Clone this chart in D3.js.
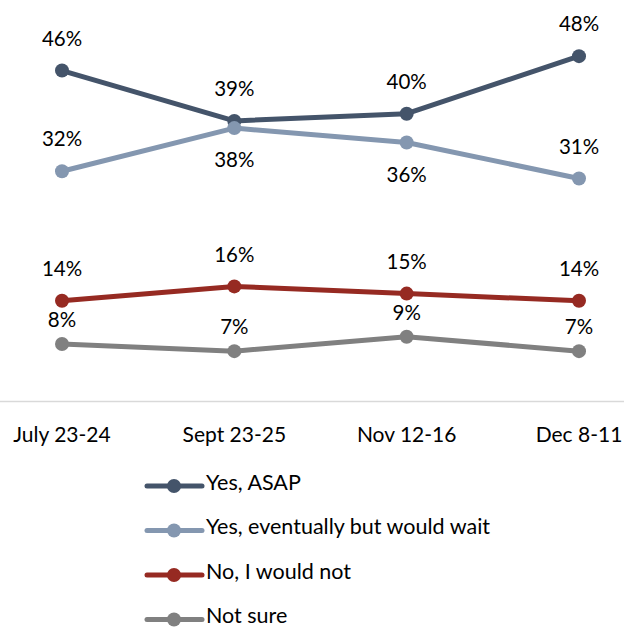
<!DOCTYPE html>
<html><head><meta charset="utf-8">
<script src="https://cdn.jsdelivr.net/npm/d3@7"></script>
<style>html,body{margin:0;padding:0;background:#fff;}svg{display:block;font-family:Lato,"Open Sans",sans-serif;}</style>
</head><body><div id="chart"></div>
<script>
const categories = ["July 23-24", "Sept 23-25", "Nov 12-16", "Dec 8-11"];
const seriesNames = ["Yes, ASAP", "Yes, eventually but would wait", "No, I would not", "Not sure"];
const yesAsap = [46, 39, 40, 48];
const yesEventually = [32, 38, 36, 31];
const noWouldNot = [14, 16, 15, 14];
const notSure = [8, 7, 9, 7];
const labelPos = [
  ["above", "above", "above", "above"],
  ["above", "below", "below", "above"],
  ["above", "above", "above", "above"],
  ["above", "above", "above", "above"]
];

const W = 624, H = 630;
const colors = ["#44546a", "#8497b0", "#962a22", "#808080"];
const labelOffsets = { above: -30, below: 34 };
const grayAbove = -22;
const allSeries = [yesAsap, yesEventually, noWouldNot, notSure];

const svg = d3.select("#chart").append("svg").attr("width", W).attr("height", H);

const x = d3.scalePoint().domain(categories).range([62, 579]);
const y = d3.scaleLinear().domain([0, 55]).range([401.5, 5.8]);

// axis
const xAxis = svg.append("g").attr("transform", `translate(0,${y(0)})`);
xAxis.append("line").attr("x1", 0).attr("x2", W).attr("stroke", "#d9d9d9").attr("stroke-width", 1.5);
xAxis.selectAll("text").data(categories).join("text")
  .attr("x", d => x(d)).attr("y", 35)
  .attr("text-anchor", "middle").attr("dominant-baseline", "middle")
  .attr("font-size", 21).attr("fill", "#000").text(d => d);

const line = d3.line().x((d, i) => x(categories[i])).y(d => y(d));

allSeries.forEach((vals, si) => {
  const g = svg.append("g");
  g.append("path").datum(vals).attr("d", line)
    .attr("fill", "none").attr("stroke", colors[si]).attr("stroke-width", 5).attr("stroke-linejoin", "round");
  g.selectAll("circle").data(vals).join("circle")
    .attr("cx", (d, i) => x(categories[i])).attr("cy", d => y(d)).attr("r", 7).attr("fill", colors[si]);
  g.selectAll("text").data(vals).join("text")
    .attr("x", (d, i) => x(categories[i]))
    .attr("y", (d, i) => y(d) + (si === 3 ? grayAbove : labelOffsets[labelPos[si][i]]))
    .attr("text-anchor", "middle").attr("dominant-baseline", "middle")
    .attr("font-size", 20.5).attr("fill", "#000").text(d => d + "%");
});

// legend
const legend = svg.append("g");
seriesNames.forEach((name, i) => {
  const cy = 486 + i * 44.5;
  legend.append("line").attr("x1", 147).attr("x2", 202).attr("y1", cy).attr("y2", cy)
    .attr("stroke", colors[i]).attr("stroke-width", 5).attr("stroke-linecap", "round");
  legend.append("circle").attr("cx", 174).attr("cy", cy).attr("r", 7).attr("fill", colors[i]);
  legend.append("text").attr("x", 206).attr("y", cy - 1.5).attr("dominant-baseline", "middle")
    .attr("font-size", 21.5).attr("fill", "#000").text(name);
});
</script></body></html>
